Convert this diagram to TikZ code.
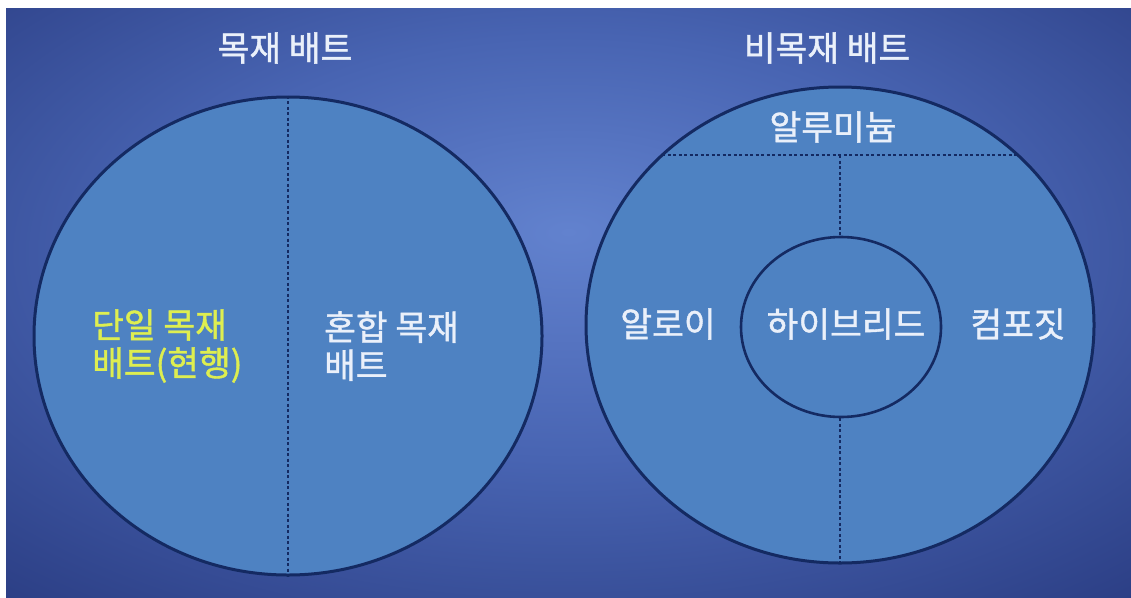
\documentclass[tikz,border=0pt]{standalone}
\usepackage{fontspec}
\newfontfamily\kr[FakeBold=1.2]{Noto Sans CJK KR}
\usetikzlibrary{shapes.geometric}
\definecolor{bgin}{RGB}{98,130,206}
\definecolor{bgmid}{RGB}{72,100,178}
\definecolor{bgout}{RGB}{38,55,124}
\definecolor{fillblue}{RGB}{78,130,194}
\definecolor{edge}{RGB}{20,42,98}
\definecolor{txt}{RGB}{234,240,250}
\definecolor{ylw}{RGB}{222,238,80}
\pgfdeclareradialshading{bgshade}{\pgfpoint{0bp}{6bp}}{color(0bp)=(bgin); color(18bp)=(bgmid); color(42bp)=(bgout); color(80bp)=(bgout)}
\tikzset{
  disc/.style={ellipse, draw=edge, line width=3pt, fill=fillblue, inner sep=0pt},
  divider/.style={draw=edge, line width=2pt, dash pattern=on 3pt off 2.5pt},
  lbl/.style={text=txt, font=\kr\fontsize{34.5}{38}\selectfont, inner sep=0pt},
}
\begin{document}
\begin{tikzpicture}[x=1pt,y=-1pt]
\useasboundingbox (0,0) rectangle (1131,597);
\fill[white] (0,0) rectangle (1131,597);
\shade[shading=bgshade] (6,8) rectangle (1131,597);
% left disc
\node[disc, minimum width=508pt, minimum height=478pt] (L) at (288,336) {};
\draw[divider] (L.north) -- (L.south);
% right disc
\node[disc, minimum width=508pt, minimum height=476pt] (R) at (840,325) {};
\coordinate (c1) at (662.2,155);
\coordinate (c2) at (1017.8,155);
\coordinate (cm) at (840,155);
\draw[divider] (c1) -- (c2);
\node[disc, line width=2.6pt, minimum width=200pt, minimum height=180pt] (H) at (841,327) {};
\draw[divider] (cm) -- (cm |- H.north);
\draw[divider] (cm |- H.south) -- (R.south);
% labels
\node[lbl] (t1) at (285,48) {목재 배트};
\node[lbl] (t2) at (827,48) {비목재 배트};
\node[lbl] (al) at (833,127) {알루미늄};
\node[lbl, text=ylw, anchor=west, align=left] (single) at (92,346) {단일 목재\\배트(현행)};
\node[lbl, anchor=west, align=left] (mixed) at (324,346) {혼합 목재\\배트};
\node[lbl] (alloy) at (668,324) {알로이};
\node[lbl] (hyb) at (846,324) {하이브리드};
\node[lbl] (comp) at (1018,324) {컴포짓};
\end{tikzpicture}
\end{document}
